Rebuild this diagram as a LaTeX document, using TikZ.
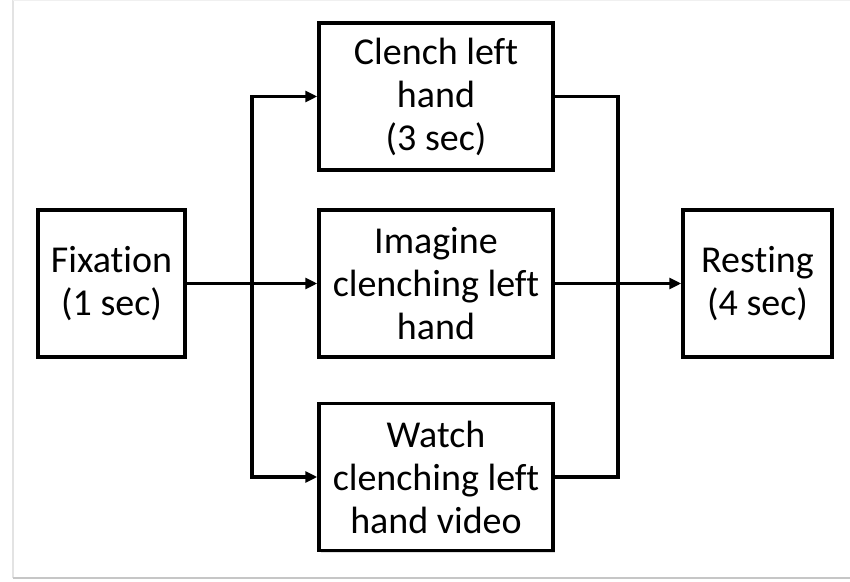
\documentclass[tikz,border=0pt]{standalone}
\usepackage{fontspec}
\setmainfont[Ligatures=NoCommon]{Carlito}
\usetikzlibrary{arrows.meta,shadows}
\begin{document}
\begin{tikzpicture}[x=1pt,y=1pt,
  stepbox/.style={draw=black,line width=3.5pt,fill=white,minimum height=147pt,
    align=center,font=\fontsize{38}{43}\selectfont,inner sep=0pt,
    drop shadow={opacity=0.25,shadow xshift=1.5pt,shadow yshift=-2pt}},
  link/.style={line width=3.5pt,line cap=rect},
  arr/.style={line width=3.5pt,-{Triangle[length=12pt,width=11pt]}}]
\useasboundingbox (0,0) rectangle (850,581);
% frame
\draw[gray!22,line width=2pt] (13,581) -- (13,3);
\draw[gray!45,line width=2.5pt] (13,3) -- (850,3);
\draw[gray!12,line width=1pt] (13,580.5) -- (850,580.5);
% nodes
\node[stepbox,minimum width=147pt] (fix) at (111.5,297.5) {Fixation\\(1 sec)};
\node[stepbox,minimum width=234pt] (clench) at (436,484.5) {Clench left\\hand\\(3 sec)};
\node[stepbox,minimum width=234pt] (imagine) at (436,297.5) {Imagine\\clenching left\\hand};
\node[stepbox,minimum width=234pt] (watch) at (436,104) {Watch\\clenching left\\hand video};
\node[stepbox,minimum width=149pt] (rest) at (757.5,297.5) {Resting\\(4 sec)};
% junctions
\coordinate (jl) at (252,0);
\coordinate (jr) at (618,0);
% left fan-out
\draw[link] (fix.east) -- (fix.east -| jl);
\draw[link] (clench.west -| jl) -- (watch.west -| jl);
\draw[arr] (clench.west -| jl) -- (clench.west);
\draw[arr] (imagine.west -| jl) -- (imagine.west);
\draw[arr] (watch.west -| jl) -- (watch.west);
% right fan-in
\draw[link] (clench.east) -- (clench.east -| jr);
\draw[link] (watch.east) -- (watch.east -| jr);
\draw[link] (clench.east -| jr) -- (watch.east -| jr);
\draw[arr] (imagine.east) -- (rest.west);
\end{tikzpicture}
\end{document}
